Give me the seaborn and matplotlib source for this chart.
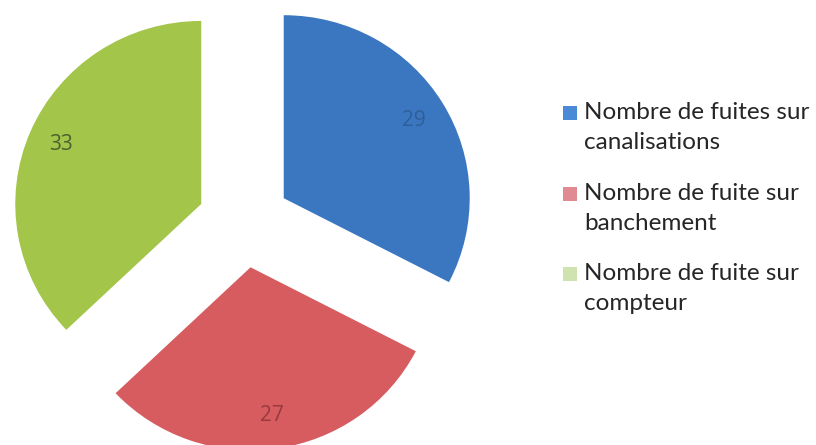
import matplotlib
matplotlib.use("Agg")
import matplotlib.pyplot as plt
from matplotlib.patches import Rectangle
import seaborn as sns

# Leak counts by location
categories = [
    "Nombre de fuites sur\ncanalisations",
    "Nombre de fuite sur\nbanchement",
    "Nombre de fuite sur\ncompteur",
]
values = [29, 27, 33]
colors = ["#3b77c0", "#d75c60", "#a3c64a"]
label_colors = ["#2f5f9a", "#9a3a3e", "#4f6030"]
legend_colors = ["#4a8ad6", "#e08a92", "#cfe3b0"]

sns.set_theme(style="white")
plt.rcParams["font.family"] = ["Lato", "DejaVu Sans"]

W, H = 816, 445
fig = plt.figure(figsize=(W / 100, H / 100), dpi=100)

# Axes placed so the pie centre and radius land where wanted
L = 1.3
sx, sy = 186, 183          # pixels per data unit
wx, wy = 2 * L * sx, 2 * L * sy
cx, cy = 244, H - 222
ax = fig.add_axes([(cx - wx / 2) / W, (cy - wy / 2) / H, wx / W, wy / H])

total = sum(values)
wedges, texts, autotexts = ax.pie(
    values,
    colors=colors,
    startangle=90,
    counterclock=False,
    explode=[0.25] * len(values),
    radius=1.0,
    autopct=lambda p: f"{round(p * total / 100):d}",
    pctdistance=0.82,
    wedgeprops=dict(linewidth=0),
    textprops=dict(fontsize=15, family=["Open Sans", "DejaVu Sans"]),
)
for t, c in zip(autotexts, label_colors):
    t.set_color(c)
ax.set_aspect("auto")
ax.set_xlim(-L, L)
ax.set_ylim(-L, L)
ax.axis("off")

# Legend: square swatch aligned with the first line of each label
x_box, x_txt = 563 / W, 584 / W
first_baselines = [120, 201, 281]
line_gap = 35
for name, c, yb in zip(categories, legend_colors, first_baselines):
    fig.patches.append(Rectangle((x_box, (H - yb) / H), 14 / W, 14 / H,
                                 transform=fig.transFigure, color=c, lw=0))
    fig.text(x_txt, (H - yb - line_gap + 6) / H, name, ha="left", va="baseline",
             fontsize=17.5, color="#262626", linespacing=1.55,
             transform=fig.transFigure)

fig.savefig("out.png", dpi=100, facecolor="white")
